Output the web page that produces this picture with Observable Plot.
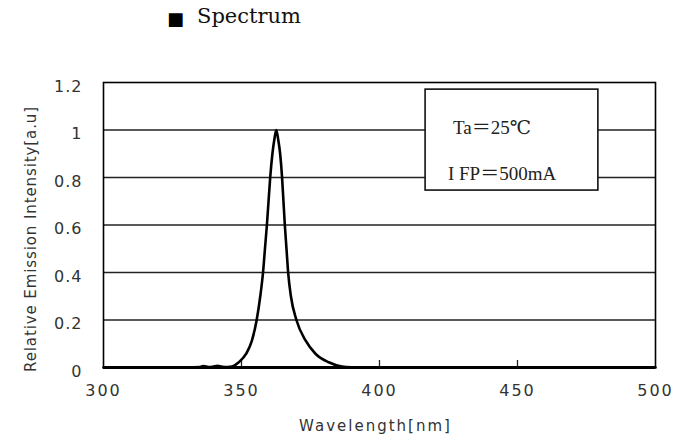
<!DOCTYPE html>
<html>
<head>
<meta charset="utf-8">
<script src="https://cdn.jsdelivr.net/npm/d3@7"></script>
<script src="https://cdn.jsdelivr.net/npm/@observablehq/plot@0.6"></script>
<style>
  html, body { margin: 0; padding: 0; background: #fff; }
  #wrap { width: 681px; height: 441px; position: relative; overflow: hidden; }
  #title { position: absolute; left: 0; top: 0; width: 681px; height: 40px; }
  #title .mark { position: absolute; left: 167px; top: 9px; font-family: "DejaVu Sans", sans-serif; font-size: 18px; line-height: 20px; }
  #title .txt { position: absolute; left: 197px; top: 3px; font-family: "DejaVu Serif", serif; font-size: 21px; line-height: 26px; color: #111; }
  #chart { position: absolute; left: 0; top: 40px; }
</style>
</head>
<body>
<div id="wrap">
  <div id="title"><span class="mark">■</span><span class="txt">Spectrum</span></div>
  <div id="chart"></div>
</div>
<script>
// Spectrum curve
const wavelength = [300, 330, 335, 336.2, 338, 339.5, 341.3, 343, 345, 346.6, 349.0, 351.7, 353.8, 355.5, 356.8, 357.8, 358.5, 359.2, 359.8, 360.4, 361.2, 361.9, 362.6, 363.3, 364.0, 364.7, 365.2, 365.7, 366.3, 366.9, 367.9, 369.9, 373.2, 376.8, 381.6, 386.4, 390, 395, 400, 500];
const intensity  = [0,   0,   0.002, 0.006, 0.002, 0.003, 0.007, 0.003, 0.002, 0.004, 0.022, 0.058, 0.114, 0.2, 0.3, 0.4, 0.5, 0.6, 0.7, 0.8, 0.9, 0.96, 1.0, 0.96, 0.9, 0.8, 0.7, 0.6, 0.5, 0.4, 0.3, 0.2, 0.114, 0.058, 0.022, 0.004, 0.001, 0, 0, 0];

// Axis ticks
const xTicks = [300, 350, 400, 450, 500];
const xInnerTicks = [350, 400, 450];
const yTicks = [0, 0.2, 0.4, 0.6, 0.8, 1, 1.2];
const yTickLabels = ["0", "0.2", "0.4", "0.6", "0.8", "1", "1.2"];
const gridY = [0.2, 0.4, 0.6, 0.8, 1];

// Labels
const xLabel = "Wavelength[nm]";
const yLabel = "Relative Emission Intensity[a.u]";

// Condition note box (data units)
const noteBox = [{x1: 416.7, x2: 479.3, y1: 0.745, y2: 1.17}];
const noteLines = [
  {x: 426.6, y: 1.01, text: "Ta＝25℃"},
  {x: 424.8, y: 0.815, text: "I FP＝500mA"}
];

const data = wavelength.map((w, i) => ({w, v: intensity[i]}));

const W = 681, H = 401;
const mTop = 42, mBottom = 74, mLeft = 103, mRight = 26;
const frameH = H - mTop - mBottom;

const chart = Plot.plot({
  width: W,
  height: H,
  marginTop: mTop,
  marginBottom: mBottom,
  marginLeft: mLeft,
  marginRight: mRight,
  x: {domain: [300, 500], axis: null},
  y: {domain: [0, 1.2], axis: null},
  style: {background: "#fff", color: "#000", overflow: "visible"},
  marks: [
    Plot.ruleY(gridY, {stroke: "#222", strokeWidth: 1.4}),
    Plot.ruleX(xInnerTicks, {stroke: "#222", strokeWidth: 1.3, insetTop: frameH - 7}),
    Plot.rect(noteBox, {x1: "x1", x2: "x2", y1: "y1", y2: "y2", fill: "#fff", stroke: "#111", strokeWidth: 1.6}),
    Plot.text(noteLines, {x: "x", y: "y", text: "text", textAnchor: "start", lineAnchor: "middle", fontSize: 19, fontFamily: "'Liberation Serif', 'DejaVu Serif', 'Noto Sans CJK JP', serif", fill: "#222"}),
    Plot.line(data, {x: "w", y: "v", stroke: "#000", strokeWidth: 2.6, curve: "monotone-x"}),
    Plot.frame({stroke: "#000", strokeWidth: 1.6}),
    Plot.ruleY([0], {stroke: "#000", strokeWidth: 2.8}),
    Plot.text(xTicks, {x: d => d, frameAnchor: "bottom", lineAnchor: "middle", textAnchor: "middle", dy: 23, text: d => String(d), fontSize: 16, fontFamily: "'DejaVu Sans', sans-serif", fill: "#333"}),
    Plot.text(yTicks, {y: d => d, frameAnchor: "left", lineAnchor: "middle", dx: -21, dy: 4, textAnchor: "end", text: (d, i) => yTickLabels[i], fontSize: 16, fontFamily: "'DejaVu Sans', sans-serif", fill: "#333"}),
    Plot.text([xLabel], {frameAnchor: "bottom", lineAnchor: "middle", textAnchor: "middle", dy: 59, dx: -4, text: d => d, fontSize: 15, fontFamily: "'DejaVu Sans', sans-serif", fill: "#333"}),
    Plot.text([yLabel], {frameAnchor: "left", lineAnchor: "middle", textAnchor: "middle", dx: -72, dy: 14, rotate: -90, text: d => d, fontSize: 15, fontFamily: "'DejaVu Sans', sans-serif", fill: "#333"})
  ]
});

// letter spacing for the stretched-looking reference fonts
const spacing = new Map([[xLabel, "2px"], [yLabel, "0.9px"]]);
xTicks.forEach(t => spacing.set(String(t), "2px"));
yTickLabels.forEach(t => spacing.set(t, "1px"));
d3.select(chart).selectAll("text").each(function() {
  const s = spacing.get(this.textContent);
  if (s) this.style.letterSpacing = s;
});
document.getElementById("chart").appendChild(chart);
</script>
</body>
</html>
